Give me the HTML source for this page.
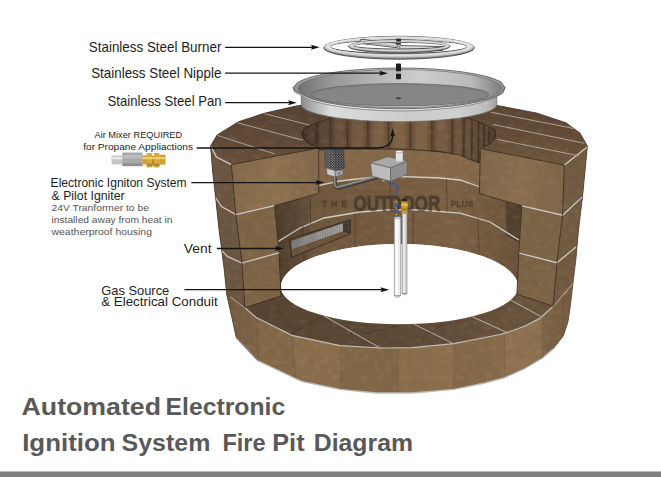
<!DOCTYPE html>
<html>
<head>
<meta charset="utf-8">
<title>Automated Electronic Ignition System Fire Pit Diagram</title>
<style>
  html, body { margin:0; padding:0; background:#ffffff; }
  body { width:661px; height:477px; overflow:hidden; font-family:"Liberation Sans", sans-serif; }
  svg { display:block; position:absolute; left:0; top:0; }
  text { font-family:"Liberation Sans", sans-serif; }
</style>
</head>
<body>
<svg width="661" height="477" viewBox="0 0 661 477">
<defs>
    <filter id="stone" x="0" y="0" width="100%" height="100%" filterUnits="userSpaceOnUse">
    <feTurbulence type="fractalNoise" baseFrequency="0.11 0.07" numOctaves="4" seed="7" result="n"/>
    <feColorMatrix type="matrix" values="0 0 0 0 0.14  0 0 0 0 0.09  0 0 0 0 0.05  1.1 0.9 0 0 -0.78"/>
  </filter>
  <filter id="stoneL" x="0" y="0" width="100%" height="100%" filterUnits="userSpaceOnUse">
    <feTurbulence type="fractalNoise" baseFrequency="0.13 0.2" numOctaves="3" seed="21" result="n"/>
    <feColorMatrix type="matrix" values="0 0 0 0 0.92  0 0 0 0 0.82  0 0 0 0 0.66  1.1 1.1 0 0 -0.95"/>
  </filter>
  <clipPath id="silClip">
    <path d="M210.5,146 L217,135 225,130 239,121.5 265,113 297,105.7 340,99 400,96 460,99 499,105.7 537,113 566,122.7 580,133 587.5,146 583,193 578.6,230 576,259 570.5,305 568,322 563.3,336 553,349 542.6,358 524,369 504.6,377.6 485,383 453.8,389.3 412.6,393 376,393 340,389.3 301.7,381.4 258,360.8 236.3,337.8 226.6,294.2 224.2,270 219,230 215.7,199 212.6,172 Z"/>
  </clipPath>
  <linearGradient id="gInner" x1="275" y1="0" x2="525" y2="0" gradientUnits="userSpaceOnUse">
    <stop offset="0" stop-color="#4b3a2b"/>
    <stop offset="0.13" stop-color="#614c38"/>
    <stop offset="0.15" stop-color="#6e563d"/>
    <stop offset="0.45" stop-color="#755b40"/>
    <stop offset="0.72" stop-color="#7b6044"/>
    <stop offset="0.88" stop-color="#71583f"/>
    <stop offset="1" stop-color="#675039"/>
  </linearGradient>
  <linearGradient id="gStave" x1="300" y1="0" x2="497" y2="0" gradientUnits="userSpaceOnUse">
    <stop offset="0" stop-color="#433428"/>
    <stop offset="0.1" stop-color="#584432"/>
    <stop offset="0.25" stop-color="#715740"/>
    <stop offset="0.45" stop-color="#7f6346"/>
    <stop offset="0.65" stop-color="#7d6145"/>
    <stop offset="0.8" stop-color="#6f563e"/>
    <stop offset="0.93" stop-color="#5b4634"/>
    <stop offset="1" stop-color="#4c3b2d"/>
  </linearGradient>
  <linearGradient id="gRingOut" x1="225" y1="0" x2="575" y2="0" gradientUnits="userSpaceOnUse">
    <stop offset="0" stop-color="#715a40"/>
    <stop offset="0.085" stop-color="#7d6346"/>
    <stop offset="0.1" stop-color="#8b6f4d"/>
    <stop offset="0.3" stop-color="#8a6e4c"/>
    <stop offset="0.5" stop-color="#896d4b"/>
    <stop offset="0.8" stop-color="#8f7250"/>
    <stop offset="0.9" stop-color="#8d7150"/>
    <stop offset="0.92" stop-color="#836849"/>
    <stop offset="1" stop-color="#7a6145"/>
  </linearGradient>
  <linearGradient id="gRingTop" x1="245" y1="0" x2="555" y2="0" gradientUnits="userSpaceOnUse">
    <stop offset="0" stop-color="#54422f"/>
    <stop offset="0.3" stop-color="#594633"/>
    <stop offset="0.55" stop-color="#5c4936"/>
    <stop offset="0.8" stop-color="#67513b"/>
    <stop offset="1" stop-color="#69533c"/>
  </linearGradient>
  <linearGradient id="gPanWall" x1="301" y1="0" x2="497" y2="0" gradientUnits="userSpaceOnUse">
    <stop offset="0" stop-color="#8a8a8a"/>
    <stop offset="0.05" stop-color="#a8a8a8"/>
    <stop offset="0.15" stop-color="#dcdcdc"/>
    <stop offset="0.3" stop-color="#d6d6d6"/>
    <stop offset="0.55" stop-color="#cbcbcb"/>
    <stop offset="0.8" stop-color="#d0d0d0"/>
    <stop offset="0.95" stop-color="#bcbcbc"/>
    <stop offset="1" stop-color="#a0a0a0"/>
  </linearGradient>
  <linearGradient id="gPanIn" x1="298" y1="0" x2="502" y2="0" gradientUnits="userSpaceOnUse">
    <stop offset="0" stop-color="#6f6f6f"/>
    <stop offset="0.12" stop-color="#8f8f8f"/>
    <stop offset="0.35" stop-color="#b2b2b2"/>
    <stop offset="0.6" stop-color="#cdcdcd"/>
    <stop offset="0.85" stop-color="#b9b9b9"/>
    <stop offset="1" stop-color="#7c7c7c"/>
  </linearGradient>
  <linearGradient id="gPanRim" x1="293" y1="0" x2="507" y2="0" gradientUnits="userSpaceOnUse">
    <stop offset="0" stop-color="#8f8f8f"/>
    <stop offset="0.1" stop-color="#b5b5b5"/>
    <stop offset="0.35" stop-color="#d4d4d4"/>
    <stop offset="0.7" stop-color="#cacaca"/>
    <stop offset="0.92" stop-color="#a6a6a6"/>
    <stop offset="1" stop-color="#8a8a8a"/>
  </linearGradient>

  <clipPath id="texClip">
    <path clip-rule="evenodd" d="M210.5,146 L217,135 225,130 239,121.5 265,113 297,105.7 340,99 400,96 460,99 499,105.7 537,113 566,122.7 580,133 587.5,146 583,193 578.6,230 576,259 570.5,305 568,322 563.3,336 553,349 542.6,358 524,369 504.6,377.6 485,383 453.8,389.3 412.6,393 376,393 340,389.3 301.7,381.4 258,360.8 236.3,337.8 226.6,294.2 224.2,270 219,230 215.7,199 212.6,172 Z M280.9,287 A118.6,43 0 0 1 518.1,287 A118.6,37.3 0 0 1 280.9,287 Z"/>
  </clipPath>
  <pattern id="mesh" x="324" y="148" width="2.6" height="2.6" patternUnits="userSpaceOnUse">
    <circle cx="0.65" cy="0.65" r="0.62" fill="#e4e4e4"/>
    <circle cx="1.95" cy="1.95" r="0.62" fill="#e4e4e4"/>
  </pattern>
  <linearGradient id="gVent" x1="291" y1="0" x2="343" y2="0" gradientUnits="userSpaceOnUse">
    <stop offset="0" stop-color="#7c7c7c"/>
    <stop offset="0.5" stop-color="#969696"/>
    <stop offset="1" stop-color="#a4a4a4"/>
  </linearGradient>
  <linearGradient id="gScallop" x1="0" y1="0" x2="1" y2="0">
    <stop offset="0" stop-color="#2a1c12" stop-opacity="0.42"/>
    <stop offset="0.3" stop-color="#2a1c12" stop-opacity="0"/>
    <stop offset="0.7" stop-color="#2a1c12" stop-opacity="0"/>
    <stop offset="1" stop-color="#2a1c12" stop-opacity="0.34"/>
  </linearGradient>
  <clipPath id="staveClip">
    <path d="M296,100 L505,100 L505,150 L480,163 471.5,160 460,155 440,151.7 411.4,149.5 372.6,148.6 345,149 317,150 296,150 Z"/>
  </clipPath>
  <linearGradient id="gCutL" x1="231" y1="0" x2="319" y2="0" gradientUnits="userSpaceOnUse">
    <stop offset="0" stop-color="#84694a"/>
    <stop offset="0.5" stop-color="#8f7350"/>
    <stop offset="1" stop-color="#84684a"/>
  </linearGradient>
  <linearGradient id="gCutR" x1="480" y1="0" x2="564" y2="0" gradientUnits="userSpaceOnUse">
    <stop offset="0" stop-color="#81674a"/>
    <stop offset="0.5" stop-color="#8a6f4f"/>
    <stop offset="1" stop-color="#806548"/>
  </linearGradient>
  <linearGradient id="gTopL" x1="0" y1="105" x2="0" y2="165" gradientUnits="userSpaceOnUse">
    <stop offset="0" stop-color="#564231"/>
    <stop offset="0.5" stop-color="#5e4735"/>
    <stop offset="1" stop-color="#674f3a"/>
  </linearGradient>
  <linearGradient id="gTopR" x1="0" y1="105" x2="0" y2="165" gradientUnits="userSpaceOnUse">
    <stop offset="0" stop-color="#584433"/>
    <stop offset="0.5" stop-color="#634b36"/>
    <stop offset="1" stop-color="#6f563e"/>
  </linearGradient>

</defs>
<rect x="0" y="0" width="661" height="477" fill="#ffffff"/>

<g id="firepit">
  <!-- base silhouette = inner wall base colour -->
  <g clip-path="url(#silClip)">
    <rect x="200" y="90" width="400" height="310" fill="url(#gInner)"/>
    <!-- second course band slightly lighter -->
    <path d="M317,150.6 L345,149.6 372.6,149.2 411.4,150.1 440,152.3 460,155.6 471.5,160.6 480,163.6 L480,187 460,180 440,178 400,176.5 370,177.5 340,181 319.4,185.4 Z" fill="#886b4b" opacity="0.8"/>
    <!-- top course inner staves -->
    <path d="M296,100 L505,100 L505,150 L480,163 471.5,160 460,155 440,151.7 411.4,149.5 372.6,148.6 345,149 317,150 296,150 Z" fill="url(#gStave)"/>
    <g clip-path="url(#staveClip)">
      <rect x="302" y="100" width="14.5" height="66" fill="url(#gScallop)"/>
      <rect x="316.5" y="100" width="13.8" height="66" fill="url(#gScallop)"/>
      <rect x="330.3" y="100" width="16.9" height="66" fill="url(#gScallop)"/>
      <rect x="347.2" y="100" width="20.6" height="66" fill="url(#gScallop)"/>
      <rect x="367.8" y="100" width="20.6" height="66" fill="url(#gScallop)"/>
      <rect x="388.4" y="100" width="21.8" height="66" fill="url(#gScallop)"/>
      <rect x="410.2" y="100" width="21.8" height="66" fill="url(#gScallop)"/>
      <rect x="432" y="100" width="20.5" height="66" fill="url(#gScallop)"/>
      <rect x="452.5" y="100" width="11.5" height="66" fill="url(#gScallop)"/>
      <rect x="464" y="100" width="8.0" height="66" fill="url(#gScallop)"/>
      <rect x="472" y="100" width="6.5" height="66" fill="url(#gScallop)"/>
      <rect x="478.5" y="100" width="5.5" height="66" fill="url(#gScallop)"/>
      <rect x="484" y="100" width="5.0" height="66" fill="url(#gScallop)"/>
      <rect x="489" y="100" width="6.0" height="66" fill="url(#gScallop)"/>
    </g>
    <g stroke="#3a2c21" stroke-width="1" opacity="0.8">
      <line x1="316.5" y1="118" x2="317" y2="150"/>
      <line x1="330.3" y1="116" x2="330.8" y2="149.6"/>
      <line x1="347.2" y1="114" x2="347.6" y2="149"/>
      <line x1="367.8" y1="112" x2="368" y2="148.7"/>
      <line x1="388.4" y1="112" x2="388.5" y2="148.8"/>
      <line x1="410.2" y1="112" x2="410.2" y2="149.4"/>
      <line x1="432" y1="112" x2="431.8" y2="150.8"/>
      <line x1="452.5" y1="112" x2="452" y2="153.5"/>
      <line x1="464" y1="114" x2="463.6" y2="157"/>
      <line x1="472" y1="116" x2="471.5" y2="160"/>
      <line x1="478.5" y1="119" x2="478.2" y2="162"/>
      <line x1="484" y1="122" x2="483.8" y2="150"/>
      <line x1="489" y1="125" x2="488.8" y2="146"/>
    </g>
    <!-- dark edge under top course -->
    <path d="M317,150 L345,149 372.6,148.6 411.4,149.5 440,151.7 460,155 471.5,160 480,163" fill="none" stroke="#33271d" stroke-width="1.2" opacity="0.85"/>
    <!-- shadow under right top-course block -->
    <path d="M505.5,201.4 L521.8,206 519,243 506.4,236 Z" fill="#2e2219" opacity="0.4"/>
    <!-- mortar arcs on inner wall -->
    <path d="M319.4,185.4 L340,181 370,177.5 400,176.5 440,178 460,180 480,187" fill="none" stroke="#d5d2cb" stroke-width="1.3"/>
    <path d="M276.5,242.5 L300,228 324,218 360,212 392,209.6 421,210 460,213.2 490,222 519,240" fill="none" stroke="#d5d2cb" stroke-width="1.3"/>
    <!-- vertical joints on inner wall lower courses -->
    <g stroke="#3f3025" stroke-width="0.8" opacity="0.7">
      <line x1="310.3" y1="196.5" x2="310.6" y2="224.5"/>
      <line x1="390" y1="176.7" x2="390" y2="209.7"/>
      <line x1="446.5" y1="178.8" x2="447" y2="212"/>
      <line x1="355" y1="213" x2="355" y2="248"/>
      <line x1="413" y1="209.8" x2="413" y2="243.6"/>
      <line x1="478" y1="218" x2="479" y2="254"/>
      <line x1="303" y1="226" x2="304" y2="262"/>
    </g>
    <!-- vent -->
    <path d="M289.6,239.3 L350.3,219.7 350.3,233.8 291.8,257.2 Z" fill="#5a4533" stroke="#2e241b" stroke-width="0.9"/>
    <path d="M291.4,241 L343,223.3 343,231.5 291.8,249.6 Z" fill="url(#gVent)"/>
    <g stroke="#6a6a6a" stroke-width="0.5" opacity="0.7">
      <line x1="294.0" y1="240.1" x2="294.0" y2="248.7"/>
      <line x1="296.4" y1="239.3" x2="296.4" y2="247.8"/>
      <line x1="298.8" y1="238.5" x2="298.8" y2="247.0"/>
      <line x1="301.2" y1="237.6" x2="301.2" y2="246.2"/>
      <line x1="303.6" y1="236.8" x2="303.6" y2="245.3"/>
      <line x1="306.0" y1="236.0" x2="306.0" y2="244.5"/>
      <line x1="308.4" y1="235.2" x2="308.4" y2="243.6"/>
      <line x1="310.8" y1="234.3" x2="310.8" y2="242.8"/>
      <line x1="313.2" y1="233.5" x2="313.2" y2="242.0"/>
      <line x1="315.6" y1="232.7" x2="315.6" y2="241.1"/>
      <line x1="318.0" y1="231.9" x2="318.0" y2="240.3"/>
      <line x1="320.4" y1="231.1" x2="320.4" y2="239.4"/>
      <line x1="322.8" y1="230.2" x2="322.8" y2="238.6"/>
      <line x1="325.2" y1="229.4" x2="325.2" y2="237.7"/>
      <line x1="327.6" y1="228.6" x2="327.6" y2="236.9"/>
      <line x1="330.0" y1="227.8" x2="330.0" y2="236.1"/>
      <line x1="332.4" y1="226.9" x2="332.4" y2="235.2"/>
      <line x1="334.8" y1="226.1" x2="334.8" y2="234.4"/>
      <line x1="337.2" y1="225.3" x2="337.2" y2="233.5"/>
      <line x1="339.6" y1="224.5" x2="339.6" y2="232.7"/>
      <line x1="342.0" y1="223.6" x2="342.0" y2="231.9"/>
    </g>
    <path d="M291.8,249.6 L343,231.5 350,233.6 292,256.6 Z" fill="#6a523b"/>
    <path d="M343,223.3 L350.1,220.4 350.1,233.6 343,231.5 Z" fill="#46372a"/>
    <!-- white ground visible through the ring -->
    <path d="M280.9,287 A118.6,43 0 0 1 518.1,287 A118.6,37.3 0 0 1 280.9,287 Z" fill="#ffffff"/>
  </g>

  <!-- bottom ring outer face -->
  <path d="M226.6,294.2 L230.3,296.6 244.8,307.5 255.7,317.2 292,335.4 325.9,342.6 340,345.7 381,348 412.6,347.6 453.8,343.7 485,337.5 500,334.5 510,331.5 525,326 540,318.4 553.2,306.3 572.6,283.3 570.5,305 568,322 563.3,336 553,349 542.6,358 524,369 504.6,377.6 485,383 453.8,389.3 412.6,393 376,393 340,389.3 301.7,381.4 258,360.8 236.3,337.8 Z" fill="url(#gRingOut)"/>
  <!-- facet shading on ring outer face -->
  <g opacity="0.05">
    <path d="M255.7,317.2 L292,335.4 296,379.5 258,360.8 Z" fill="#000"/>
    <path d="M340,345.7 L398,348 398,393 341,389.4 Z" fill="#000"/>
    <path d="M453.8,343.7 L504.6,332.8 504.6,377.6 453.8,389.3 Z" fill="#000"/>
    <path d="M542.6,316.5 L572.6,283.3 570.5,305 563.3,336 542.6,358 Z" fill="#000"/>
  </g>
  <g stroke="#56432f" stroke-width="0.8" opacity="0.35">
    <line x1="255.7" y1="317.2" x2="258" y2="360.8"/>
    <line x1="292" y1="335.4" x2="296" y2="379.5"/>
    <line x1="340" y1="345.7" x2="341" y2="389.4"/>
    <line x1="398" y1="348" x2="398" y2="393"/>
    <line x1="453.8" y1="343.7" x2="453.8" y2="389.3"/>
    <line x1="504.6" y1="332.8" x2="504.6" y2="377.6"/>
    <line x1="542.6" y1="316.5" x2="542.6" y2="358"/>
    <line x1="563.3" y1="295" x2="563.3" y2="336"/>
  </g>
  <!-- ring bottom light edge -->
  <path d="M236.3,337.8 L258,360.8 301.7,381.4 340,389.3 376,393 412.6,393 453.8,389.3 485,383 504.6,377.6 524,369 542.6,358 553,349" fill="none" stroke="#bcbcbc" stroke-width="1.3"/>
  <!-- ring top surface -->
  <path d="M244.8,307.5 L281,296.1 290,291 508,291 516.9,294.2 553.2,306.3 540,318.4 525,326 510,331.5 500,334.5 485,337.5 453.8,343.7 412.6,347.6 381,348 340,345.7 325.9,342.6 292,335.4 255.7,317.2 Z" fill="url(#gRingTop)"/>
  <path d="M280.9,287 A118.6,43 0 0 1 518.1,287 A118.6,37.3 0 0 1 280.9,287 Z" fill="#ffffff"/>
  <path d="M282.5,296 A118.6,37.3 0 0 0 517,295" fill="none" stroke="#4a3a2c" stroke-width="0.7" opacity="0.7"/>
  <!-- ring top mortar -->
  <g stroke="#c4c2bd" stroke-width="1.2" fill="none">
    <path d="M230.3,296.6 L244.8,307.5 255.7,317.2 292,335.4 325.9,342.6 340,345.7 381,348 412.6,347.6 453.8,343.7 485,337.5 500,334.5 510,331.5 525,326 540,318.4 553.2,306.3 572.6,283.3"/>
  </g>
  <g stroke="#b9b6b0" stroke-width="1" fill="none">
    <line x1="323" y1="315.4" x2="379.5" y2="347.6"/>
    <line x1="414" y1="324.2" x2="453" y2="343.4"/>
    <line x1="471" y1="316.2" x2="506" y2="332"/>
    <line x1="510.5" y1="300" x2="541" y2="316.5"/>
  </g>
  <g stroke="#3a2c21" stroke-width="0.8" opacity="0.55">
    <line x1="290" y1="334" x2="323" y2="316"/>
    <line x1="364" y1="333.5" x2="402" y2="325"/>
    <line x1="420" y1="339" x2="443" y2="324.4"/>
  </g>

  <!-- LEFT PILLAR -->
  <!-- outer facets -->
  <path d="M210.5,147.8 L231.4,164.6 235.6,213.9 242,262.6 244.8,307.5 230.3,296.6 226.6,294.2 224.2,270 219,230 215.7,199 212.6,172 Z" fill="#6b5540"/>
  <!-- lower cut face (2nd + 3rd course) -->
  <path d="M235.8,214.6 L274.6,205.6 279,252 281,296.1 244.8,307.5 242,262.6 Z" fill="#7d6446"/>
  <!-- top course cut face -->
  <path d="M231.4,164.6 L318.6,148.1 318.8,193.4 274.6,205.6 235.8,214.6 Z" fill="url(#gCutL)"/>
  <!-- top surface left -->
  <path d="M210.5,146 L217,135 225,130 239,121.5 265,113 297,105.7 340,99 345,114 335.6,116.6 313.8,123.9 303.5,129 301.7,133.6 304,139 310,144 318.6,148.1 231.4,164.6 210.5,147.8 Z" fill="url(#gTopL)"/>
  <!-- left mortar -->
  <g stroke="#d3d1cc" stroke-width="1.25" fill="none">
    <path d="M211,146.3 L216.4,157 231.4,164.6"/>
    <path d="M215.7,197.8 L221.5,206.5 235.8,214.6 274.6,205.6"/>
    <path d="M221.8,250.6 L227.4,256.4 242,263 279.5,252.6"/>
    <g stroke="#aca49b" stroke-width="1">
    <line x1="216.8" y1="135.2" x2="274.9" y2="154"/>
    <line x1="235.9" y1="122.4" x2="303" y2="140.2"/>
    <line x1="263" y1="113.3" x2="309.4" y2="125"/>
    </g>
  </g>
  <g stroke="#33271d" stroke-width="0.9" fill="none" opacity="0.85">
    <path d="M231.4,164.6 L318.6,148.1 318.8,193.4"/>
    <path d="M231.4,164.6 L235.8,214.6 242,263 244.8,307.5"/>
    <path d="M274.6,205.6 L279,252 281,296.1"/>
    <path d="M318.8,193.4 L274.6,205.6"/>
    <path d="M244.8,307.5 L281,296.1"/>
    <path d="M345,114 L335.6,116.6 313.8,123.9 303.5,129 301.7,133.6 304,139 310,144 318.6,148.1" stroke-width="1.1"/>
  </g>

  <!-- RIGHT PILLAR -->
  <path d="M564.2,165.2 L587.5,146 583,193 578.6,230 576,259 572.6,283.3 553.2,306.3 556.9,262.7 562.6,215.2 Z" fill="#715a41"/>
  <path d="M521.8,205.8 L562.6,215.2 556.9,262.7 553.2,306.3 516.9,294.2 518.8,253 Z" fill="#7b6346"/>
  <path d="M480.4,148.6 L564.2,165.2 562.6,215.2 521.8,205.8 479.4,193.6 Z" fill="url(#gCutR)"/>
  <!-- top surface right -->
  <path d="M499,105.7 L537,113 566,122.7 580,133 587.5,146 564.2,165.2 480.4,148.6 487,145.6 492,142 495.7,136 495,130 488.4,126.3 471.5,119 460,116 460,99 Z" fill="url(#gTopR)"/>
  <g stroke="#d3d1cc" stroke-width="1.25" fill="none">
    <path d="M564.2,165.2 L587.5,146.8"/>
    <path d="M521.8,205.8 L562.6,215.2 582.6,196.6"/>
    <path d="M518.8,253 L556.9,262.7 576,247"/>
    <g stroke="#aca49b" stroke-width="1">
    <line x1="492.7" y1="124.4" x2="584.6" y2="143.3"/>
    <line x1="497" y1="139.3" x2="578.9" y2="155.8"/>
    <line x1="490.9" y1="112.2" x2="574.4" y2="128.6"/>
    </g>
  </g>
  <g stroke="#33271d" stroke-width="0.9" fill="none" opacity="0.85">
    <path d="M479.4,193.6 L480.4,148.6 564.2,165.2 562.6,215.2 556.9,262.7 553.2,306.3"/>
    <path d="M521.8,205.8 L518.8,253 516.9,294.2 553.2,306.3"/>
    <path d="M479.4,193.6 L521.8,205.8"/>
    <path d="M480.4,148.6 L487,145.6 492,142 495.7,136 495,130 488.4,126.3 471.5,119 460,116" stroke-width="1.1"/>
  </g>

  <!-- silhouette outline -->
  <path d="M297,105.7 L265,113 239,121.5 225,130 217,135 210.5,146 212.6,172 215.7,199 219,230 224.2,270 226.6,294.2 236.3,337.8 258,360.8" fill="none" stroke="#3a2d22" stroke-width="0.8" opacity="0.7"/>
  <path d="M499,105.7 L537,113 566,122.7 580,133 587.5,146 583,193 578.6,230 576,259 570.5,305 568,322 563.3,336 553,349" fill="none" stroke="#3a2d22" stroke-width="0.8" opacity="0.6"/>
  <!-- stone texture overlay -->
  <g clip-path="url(#texClip)">
    <rect x="200" y="90" width="400" height="310" filter="url(#stone)" opacity="0.2"/>
    <rect x="200" y="90" width="400" height="310" filter="url(#stoneL)" opacity="0.1"/>
  </g>
</g>


<g id="pan">
  <!-- outer wall of pan -->
  <path d="M301.2,93 L301.2,104.5 A97.8,17.2 0 0 0 496.8,104.5 L496.8,93 Z" fill="url(#gPanWall)" stroke="#6a6a6a" stroke-width="0.7"/>
  <!-- rim edge thickness -->
  <path d="M293.2,87.6 L294.6,91.8 300.6,95 A107,20.6 0 0 0 400,111 A107,20.6 0 0 0 496.5,96.6 L503,93.2 505,87.6 Z" fill="#e9e9e9" stroke="#6a6a6a" stroke-width="0.7"/>
  <!-- rim (flange) top -->
  <path d="M293.2,87.4 L297.6,82.6 A107,20.4 0 0 1 400,68 A107,20.4 0 0 1 501,82 L505,87.4 503,91.6 A107,20.4 0 0 1 400,108.8 A107,20.4 0 0 1 300.6,93.6 L294.6,90.8 Z" fill="url(#gPanRim)" stroke="#4e4e4e" stroke-width="0.8"/>
  <!-- inner slope -->
  <ellipse cx="399.6" cy="88.6" rx="101.5" ry="19.1" fill="url(#gPanIn)" stroke="#6c6c6c" stroke-width="0.7"/>
  <!-- floor -->
  <ellipse cx="400" cy="94.7" rx="88.6" ry="11.1" fill="#828282" stroke="#5e5e5e" stroke-width="0.7"/>
  <ellipse cx="400" cy="95.6" rx="85" ry="9.6" fill="#868686"/>
  <!-- centre hole -->
  <ellipse cx="398.5" cy="98.2" rx="2.6" ry="1" fill="#3a3a3a"/>
</g>


<g id="burner">
  <!-- outer ring (ring = outer ellipse minus inner ellipse) -->
  <path fill-rule="evenodd" d="M323.7,47.75 A75.3,11.45 0 1 0 474.3,47.75 A75.3,11.45 0 1 0 323.7,47.75 Z M330.1,46.7 A68.5,6.7 0 1 1 467.1,46.7 A68.5,6.7 0 1 1 330.1,46.7 Z" fill="#8a8a8a" stroke="#3a3a3a" stroke-width="0.8"/>
  <path fill-rule="evenodd" d="M324.3,46.9 A74.7,10.6 0 1 0 473.7,46.9 A74.7,10.6 0 1 0 324.3,46.9 Z M330.6,46.9 A68,7.3 0 1 1 466.6,46.9 A68,7.3 0 1 1 330.6,46.9 Z" fill="#c9c9c9"/>
  <path fill-rule="evenodd" d="M326,46.3 A73,9.6 0 1 0 472,46.3 A73,9.6 0 1 0 326,46.3 Z M329.6,46.5 A69,8 0 1 1 467.6,46.5 A69,8 0 1 1 329.6,46.5 Z" fill="#e3e3e3"/>
  <!-- spokes -->
  <path d="M362,41.6 L396,45.4" stroke="#3f3f3f" stroke-width="5" stroke-linecap="round" fill="none"/>
  <path d="M362,41.6 L396,45.4" stroke="#bdbdbd" stroke-width="3.7" stroke-linecap="round" fill="none"/>
  <path d="M362,40.9 L396,44.7" stroke="#dedede" stroke-width="1.2" stroke-linecap="round" fill="none"/>
  <path d="M401,47.8 L441,48.6" stroke="#3f3f3f" stroke-width="5" stroke-linecap="round" fill="none"/>
  <path d="M401,47.8 L441,48.6" stroke="#bdbdbd" stroke-width="3.7" stroke-linecap="round" fill="none"/>
  <path d="M401,47.1 L441,47.9" stroke="#dedede" stroke-width="1.2" stroke-linecap="round" fill="none"/>
  <!-- inner ring -->
  <path fill-rule="evenodd" d="M348.4,46.35 A50.8,6.45 0 1 0 450,46.35 A50.8,6.45 0 1 0 348.4,46.35 Z M353.4,45.7 A45.8,3.3 0 1 1 445,45.7 A45.8,3.3 0 1 1 353.4,45.7 Z" fill="#8e8e8e" stroke="#3a3a3a" stroke-width="0.8"/>
  <path fill-rule="evenodd" d="M349,45.7 A50.2,5.8 0 1 0 449.4,45.7 A50.2,5.8 0 1 0 349,45.7 Z M353.2,45.8 A46,3.7 0 1 1 445.2,45.8 A46,3.7 0 1 1 353.2,45.8 Z" fill="#d2d2d2"/>
  <!-- hub -->
  <rect x="396.3" y="38.6" width="4.6" height="6" fill="#2a2a2a"/>
  <rect x="396.3" y="41.4" width="4.6" height="1.4" fill="#a4a4a4"/>
  <!-- nipple -->
  <rect x="396" y="63.6" width="5" height="15.6" rx="0.8" fill="#1c1c1c"/>
  <rect x="396" y="71.2" width="5" height="2.6" fill="#b0b0b0"/>
</g>


<g id="parts">
  <!-- watermark -->
  <g fill="#2a2019" stroke="#2a2019" stroke-width="0.9" opacity="0.5" font-weight="bold">
    <text x="353.4" y="211.4" font-size="22.6" textLength="87" lengthAdjust="spacingAndGlyphs">OUTDOOR</text>
  </g>
  <g fill="#2a2019" stroke="#2a2019" stroke-width="0.3" opacity="0.45" font-weight="bold">
    <text x="322" y="206.8" font-size="8.6" textLength="25" lengthAdjust="spacing">THE</text>
    <text x="450.4" y="206.8" font-size="8.6" textLength="23" lengthAdjust="spacingAndGlyphs">PLUS</text>
  </g>

  <!-- conduit pipes -->
  <rect x="402.1" y="213.5" width="4.9" height="80" fill="#d2d2d2" stroke="#7d7d7d" stroke-width="0.6"/>
  <rect x="403.2" y="213.5" width="1.4" height="80" fill="#f2f2f2"/>
  <path d="M402.1,293.5 Q404.5,296 407,293.5 Z" fill="#bdbdbd" stroke="#7d7d7d" stroke-width="0.5"/>
  <rect x="394.2" y="217.6" width="6.6" height="78" fill="#ececec" stroke="#7d7d7d" stroke-width="0.6"/>
  <rect x="395.6" y="217.6" width="2.2" height="78" fill="#ffffff"/>
  <path d="M394.2,295.6 Q397.5,299 400.8,295.6 Z" fill="#d0d0d0" stroke="#7d7d7d" stroke-width="0.5"/>
  <ellipse cx="397.5" cy="217.8" rx="3.3" ry="1" fill="#d9d9d9" stroke="#7d7d7d" stroke-width="0.5"/>
  <!-- brass fitting -->
  <rect x="401.6" y="201" width="5.8" height="12.8" fill="#c79a35"/>
  <rect x="401.2" y="203.5" width="6.6" height="2.6" fill="#e0b84e"/>
  <rect x="401.2" y="208.4" width="6.6" height="2.2" fill="#a77d26"/>
  <rect x="401.8" y="198.8" width="5.4" height="2.6" fill="#2a2419"/>
  <!-- wire -->
  <path d="M396.4,201 L396.4,217" stroke="#2f57b6" stroke-width="1.3" fill="none"/>
  <path d="M396.4,201 L396.4,217" stroke="#e2c437" stroke-width="1.3" stroke-dasharray="1.4 5" fill="none"/>
  <path d="M382.4,181.4 Q384.5,178.6 387,181 Q389,184.6 392,184 L395,183.4 Q397,183.4 397,186 L397.2,196" stroke="#2f57b6" stroke-width="1.3" fill="none"/>
  <path d="M382.4,181.4 Q384.5,178.6 387,181 Q389,184.6 392,184 L395,183.4 Q397,183.4 397,186 L397.2,196" stroke="#e2c437" stroke-width="1.3" stroke-dasharray="3.5 40" fill="none"/>

  <!-- L-shaped tube -->
  <path d="M334.6,175 L335.2,185 Q335.6,188.8 339.4,187.8 L377.6,177.2" stroke="#3a3a3a" stroke-width="3.6" fill="none" stroke-linecap="round"/>
  <path d="M334.4,175 L335,184.8 Q335.4,188.2 339.2,187.2 L377.4,176.6" stroke="#6e6e6e" stroke-width="2" fill="none" stroke-linecap="round"/>
  <path d="M333.9,175 L334.5,184.6 Q334.9,187.6 338.7,186.6 L377.2,176" stroke="#a8a8a8" stroke-width="0.8" fill="none" stroke-linecap="round"/>

  <!-- control box -->
  <path d="M370.4,162.7 L390.5,167.7 390.5,181.3 372,176 Z" fill="#bcbcbc" stroke="#5c5c5c" stroke-width="0.6"/>
  <path d="M390.5,167.7 L407.3,161 407,174.4 390.5,181.3 Z" fill="#8f8f8f" stroke="#5c5c5c" stroke-width="0.6"/>
  <path d="M370.4,162.7 L388,156.8 407.3,161 390.5,167.7 Z" fill="#a9a9a9" stroke="#5c5c5c" stroke-width="0.6"/>
  <rect x="395.6" y="151.6" width="7.4" height="9" fill="#e4e4e4" stroke="#7a7a7a" stroke-width="0.5"/>
  <ellipse cx="399.3" cy="151.6" rx="3.7" ry="1.2" fill="#f1f1f1" stroke="#7a7a7a" stroke-width="0.5"/>
  <ellipse cx="399.3" cy="160.6" rx="3.7" ry="1.2" fill="#d9d9d9"/>

  <!-- pilot igniter mesh -->
  <path d="M326.5,168.2 L335.2,170.5 335.2,176.9 327.1,174.6 Z" fill="#c9c9c9" stroke="#5c5c5c" stroke-width="0.5"/>
  <path d="M335.2,170.5 L343.2,170.2 342.7,174.6 335.2,176.9 Z" fill="#a6a6a6" stroke="#5c5c5c" stroke-width="0.5"/>
  <circle cx="339.3" cy="173.2" r="0.9" fill="#5a5a5a"/>
  <path d="M324.2,149.2 L329,147.6 339,147.6 343.8,149.8 345,168.8 335.2,170.5 324.8,167.1 Z" fill="#141414"/>
  <path d="M324.2,149.2 L334.6,150.6 335.2,170.5 324.8,167.1 Z" fill="url(#mesh)"/>
  <path d="M334.6,150.6 L343.8,149.8 345,168.8 335.2,170.5 Z" fill="url(#mesh)" opacity="0.85"/>
  <path d="M324.2,149.2 L329,147.6 339,147.6 343.8,149.8 334.6,150.6 Z" fill="url(#mesh)" opacity="0.6"/>
</g>


<g id="arrows" stroke="#141414" stroke-width="1.3" fill="none">
  <line x1="225.1" y1="47.3" x2="313" y2="47.3"/>
  <line x1="225.1" y1="73.2" x2="381" y2="73.2"/>
  <line x1="225.1" y1="102.7" x2="290" y2="102.7"/>
  <path d="M196.7,148 L376,148 Q392.6,148.2 392.8,134.6"/>
  <line x1="191.3" y1="182.6" x2="318" y2="182.6"/>
  <line x1="216.8" y1="248.5" x2="277" y2="248.5"/>
  <line x1="184.4" y1="289.7" x2="382" y2="289.7"/>
</g>
<g id="arrowheads" fill="#141414">
  <path d="M319.7,47.3 L310.9,44.8 312.4,47.3 310.9,49.8 Z"/>
  <path d="M388,73.2 L379.2,70.7 380.7,73.2 379.2,75.7 Z"/>
  <path d="M296.9,102.7 L288.1,100.2 289.6,102.7 288.1,105.2 Z"/>
  <path d="M392.7,128.2 L390.3,136.6 392.7,135.2 395.1,136.6 Z"/>
  <path d="M324.4,182.6 L315.6,180.1 317.1,182.6 315.6,185.1 Z"/>
  <path d="M283.8,248.5 L275.0,246.0 276.5,248.5 275.0,251.0 Z"/>
  <path d="M389.2,289.7 L380.4,287.2 381.9,289.7 380.4,292.2 Z"/>
</g>
<g id="labels" fill="#1e1e1e">
  <text x="88.8" y="51.8" font-size="14.4" textLength="132.6" lengthAdjust="spacingAndGlyphs">Stainless Steel Burner</text>
  <text x="91.2" y="78" font-size="14.4" textLength="130.2" lengthAdjust="spacingAndGlyphs">Stainless Steel Nipple</text>
  <text x="107.6" y="106.4" font-size="14.4" textLength="114" lengthAdjust="spacingAndGlyphs">Stainless Steel Pan</text>
  <text x="94.5" y="137.8" font-size="9.9" textLength="87.7" lengthAdjust="spacingAndGlyphs">Air Mixer REQUIRED</text>
  <text x="83.2" y="149.8" font-size="9.9" textLength="109.8" lengthAdjust="spacingAndGlyphs">for Propane Appliactions</text>
  <text x="50.6" y="186.8" font-size="13" textLength="136" lengthAdjust="spacingAndGlyphs">Electronic Igniton System</text>
  <text x="51.5" y="200.2" font-size="13" textLength="73.2" lengthAdjust="spacingAndGlyphs">&amp; Pilot Igniter</text>
  <g fill="#555555">
    <text x="51.5" y="210.8" font-size="9.6" textLength="97.4" lengthAdjust="spacingAndGlyphs">24V Tranformer to be</text>
    <text x="51.5" y="222.6" font-size="9.6" textLength="121" lengthAdjust="spacingAndGlyphs">installed away from heat in</text>
    <text x="51.5" y="234.8" font-size="9.6" textLength="100.5" lengthAdjust="spacingAndGlyphs">weatherproof housing</text>
  </g>
  <text x="183.8" y="252.8" font-size="13.6" textLength="27.8" lengthAdjust="spacingAndGlyphs">Vent</text>
  <text x="101.2" y="294.6" font-size="13" textLength="68.1" lengthAdjust="spacingAndGlyphs">Gas Source</text>
  <text x="101.2" y="305.8" font-size="13" textLength="116.5" lengthAdjust="spacingAndGlyphs">&amp; Electrical Conduit</text>
</g>
<!-- air mixer illustration -->
<g id="airmixer">
  <rect x="111.5" y="155.4" width="11.6" height="9" rx="1.8" fill="#c6c6c6"/>
  <rect x="112.5" y="157" width="10" height="2.4" fill="#ececec"/>
  <rect x="122.4" y="152.6" width="20.2" height="13.6" rx="1" fill="#a9a9a9"/>
  <rect x="122.4" y="155" width="20.2" height="3.4" fill="#bdbdbd"/>
  <rect x="122.4" y="163.4" width="20.2" height="2.6" fill="#8e8e8e"/>
  <rect x="142.4" y="155.4" width="5" height="9" fill="#d2a136"/>
  <rect x="146.6" y="153" width="5.6" height="14.4" rx="0.8" fill="#d9a93a"/>
  <rect x="152" y="156" width="2.2" height="8.4" fill="#b98a28"/>
  <rect x="153.9" y="153" width="5.6" height="14.4" rx="0.8" fill="#d9a93a"/>
  <rect x="159.3" y="154.8" width="6.2" height="9.8" fill="#cf9f34"/>
  <rect x="142.4" y="157" width="23" height="2.2" fill="#f2d67c" opacity="0.85"/>
  <rect x="146.6" y="163.6" width="13" height="2.6" fill="#a87c22" opacity="0.7"/>
</g>


<g id="title" fill="#595959" font-weight="bold" font-size="23">
  <text x="21.6" y="415" textLength="139.4" lengthAdjust="spacingAndGlyphs">Automated</text>
  <text x="165.6" y="415" textLength="119.6" lengthAdjust="spacingAndGlyphs">Electronic</text>
  <text x="22.2" y="450.7" textLength="93.4" lengthAdjust="spacingAndGlyphs">Ignition</text>
  <text x="121.6" y="450.7" textLength="88.8" lengthAdjust="spacingAndGlyphs">System</text>
  <text x="222.4" y="450.7" textLength="43.2" lengthAdjust="spacingAndGlyphs">Fire</text>
  <text x="272.2" y="450.7" textLength="32.4" lengthAdjust="spacingAndGlyphs">Pit</text>
  <text x="313.8" y="450.7" textLength="99.2" lengthAdjust="spacingAndGlyphs">Diagram</text>
</g>
<rect x="0" y="471.5" width="661" height="5.5" fill="#7f7f7f"/>


</svg>
</body>
</html>
